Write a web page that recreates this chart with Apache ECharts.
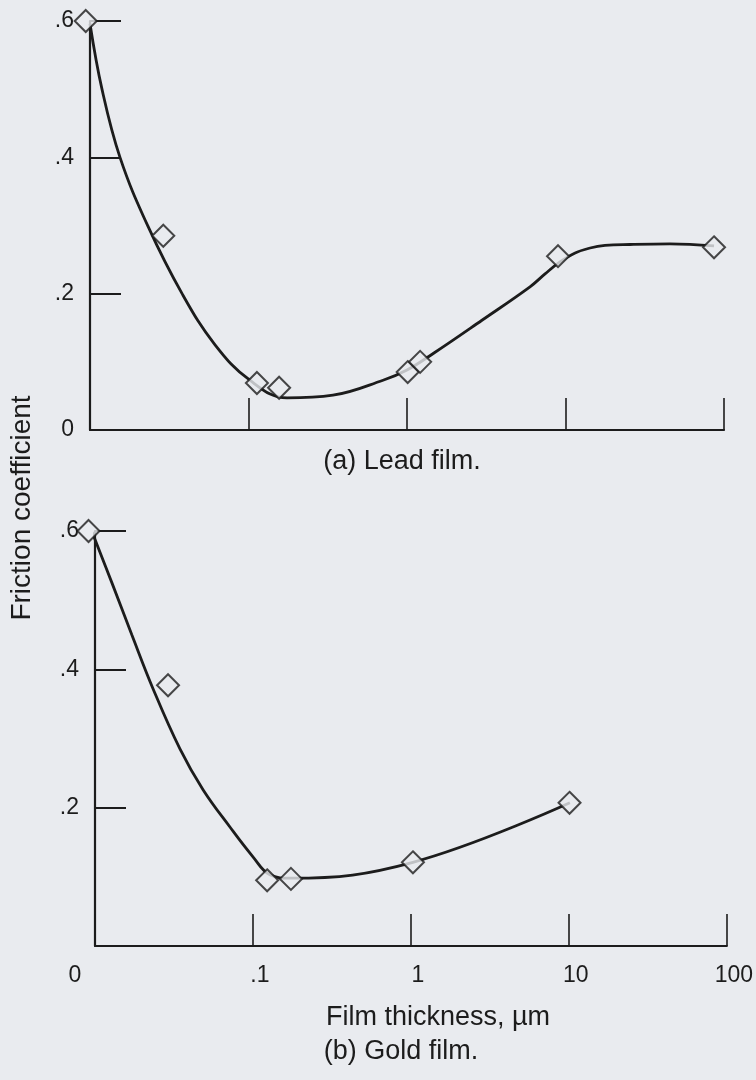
<!DOCTYPE html>
<html>
<head>
<meta charset="utf-8">
<script src="https://cdn.jsdelivr.net/npm/echarts@6/dist/echarts.min.js"></script>
<style>
html,body{margin:0;padding:0;background:#e9ebef;}
#c{width:756px;height:1080px;}
</style>
</head>
<body>
<div id="c"></div>
<script>
// ---- data ----
var xTickLabels = ['0', '.1', '1', '10', '100'];   // at 0.01, 0.1, 1, 10, 100 (log axis)
var yTickLabels = ['0', '.2', '.4', '.6'];

// (a) Lead film
var leadPoints = [[0.0094, 0.60], [0.029, 0.285], [0.113, 0.069], [0.156, 0.062],
                  [1.01, 0.085], [1.21, 0.10], [8.97, 0.255], [86.5, 0.268]];
var leadCurve = [[0.01, 0.596], [0.0119, 0.50], [0.01546, 0.40], [0.0232, 0.299],
                 [0.0381, 0.20], [0.0615, 0.125], [0.102, 0.073], [0.175, 0.047],
                 [0.341, 0.051], [0.706, 0.073], [1.0, 0.088], [1.48, 0.113],
                 [2.97, 0.161], [5.97, 0.21], [7.43, 0.229], [9.23, 0.2465],
                 [11.5, 0.2597], [14.3, 0.267], [17.75, 0.2707], [25.5, 0.2721],
                 [45.6, 0.273], [86.5, 0.27]];

// (b) Gold film
var goldPoints = [[0.0091, 0.60], [0.029, 0.377], [0.123, 0.095], [0.174, 0.097],
                  [1.03, 0.121], [10.1, 0.207]];
var goldCurve = [[0.0096, 0.598], [0.0128, 0.525], [0.0171, 0.45], [0.0233, 0.372],
                 [0.0345, 0.285], [0.0483, 0.226], [0.0715, 0.172], [0.1, 0.129],
                 [0.128, 0.103], [0.174, 0.098], [1.03, 0.121], [10.15, 0.207]];

var INK = '#1c1c1c';
var BG = '#e9ebef';
var FONT = 'Liberation Sans, Arial, Helvetica, sans-serif';

function xLabel(v) {
  var i = Math.round(Math.log10(v)) + 2;
  var t = xTickLabels[i];
  if (t === undefined) return '';
  return i === 0 ? '{z|' + t + '}' : '{n|' + t + '}';
}
function yLabelTop(v) { return yTickLabels[Math.round(v / 0.2)] || ''; }
function yLabelBottom(v) { var i = Math.round(v / 0.2); return i === 0 ? '' : (yTickLabels[i] || ''); }

function xAxis(idx, showLabels) {
  return {
    type: 'log', logBase: 10, min: 0.01, max: 100, gridIndex: idx,
    axisLine: { lineStyle: { color: INK, width: 2.2 } },
    axisTick: { inside: true, length: 32, lineStyle: { color: INK, width: 1.6 } },
    splitLine: { show: false }, minorTick: { show: false },
    axisLabel: {
      show: showLabels, margin: 18, color: INK, fontFamily: FONT, fontSize: 23,
      formatter: xLabel,
      rich: {
        z: { fontFamily: FONT, fontSize: 23, color: INK, padding: [0, 40, 0, 0] },
        n: { fontFamily: FONT, fontSize: 23, color: INK, padding: [0, 0, 0, 14] }
      }
    }
  };
}
function yAxis(idx, fmt) {
  return {
    type: 'value', min: 0, max: 0.6, interval: 0.2, gridIndex: idx,
    axisLine: { show: true, lineStyle: { color: INK, width: 2.2 } },
    axisTick: { show: true, inside: true, length: 31, lineStyle: { color: INK, width: 2 } },
    splitLine: { show: false },
    axisLabel: { margin: 16, color: INK, fontFamily: FONT, fontSize: 23, formatter: fmt }
  };
}
function curve(data, idx, smooth) {
  return { type: 'line', xAxisIndex: idx, yAxisIndex: idx, data: data, smooth: smooth,
           clip: false, symbol: 'none', lineStyle: { color: INK, width: 2.8 }, z: 2, silent: true };
}
function pts(data, idx) {
  return { type: 'scatter', xAxisIndex: idx, yAxisIndex: idx, data: data, clip: false,
           symbol: 'diamond', symbolSize: [22, 22],
           itemStyle: { color: BG, borderColor: INK, borderWidth: 2 }, z: 3 };
}

var chart = echarts.init(document.getElementById('c'), null, { renderer: 'canvas' });
chart.setOption({
  backgroundColor: BG,
  animation: false,
  grid: [
    { left: 90, top: 21, width: 634, height: 409 },
    { left: 95, top: 531, width: 632, height: 415 }
  ],
  xAxis: [xAxis(0, false), xAxis(1, true)],
  yAxis: [yAxis(0, yLabelTop), yAxis(1, yLabelBottom)],
  series: [
    curve(leadCurve, 0, 0.4), pts(leadPoints, 0),
    curve(goldCurve, 1, 0.4), pts(goldPoints, 1)
  ],
  graphic: [
    { type: 'text', x: 402, y: 462, style: { text: '(a) Lead film.', fill: INK, font: '27px ' + FONT, textAlign: 'center', textVerticalAlign: 'middle' } },
    { type: 'text', x: 438, y: 1018, style: { text: 'Film thickness, \u00b5m', fill: INK, font: '27px ' + FONT, textAlign: 'center', textVerticalAlign: 'middle' } },
    { type: 'text', x: 401, y: 1052, style: { text: '(b) Gold film.', fill: INK, font: '27px ' + FONT, textAlign: 'center', textVerticalAlign: 'middle' } },
    { type: 'text', x: 22, y: 508, rotation: Math.PI / 2, style: { text: 'Friction coefficient', fill: INK, font: '28px ' + FONT, textAlign: 'center', textVerticalAlign: 'middle' } }
  ]
});
</script>
</body>
</html>
